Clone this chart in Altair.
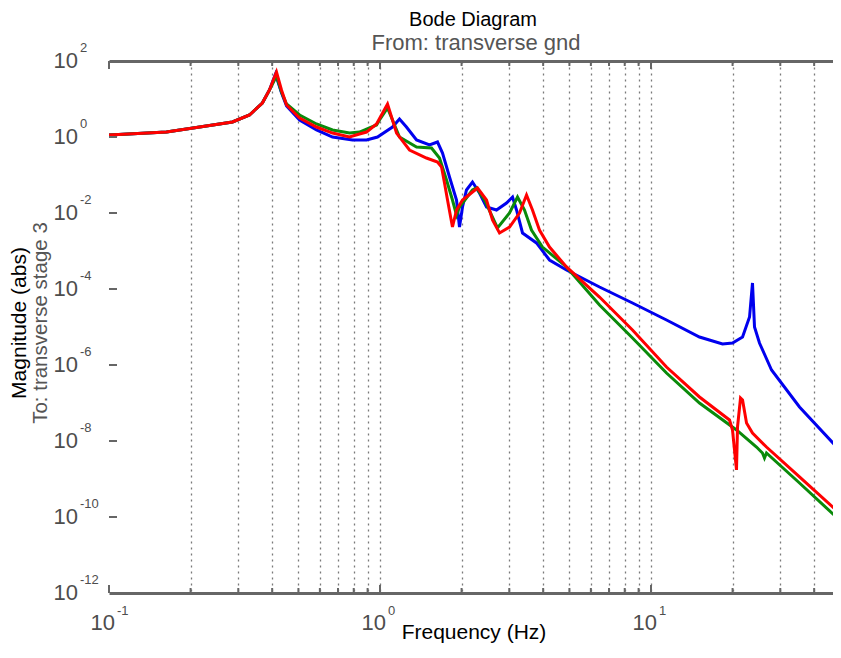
import altair as alt
import pandas as pd

# ---- data ----
freq_blue = [0.1, 0.163, 0.216, 0.2855, 0.330, 0.368, 0.391, 0.4115, 0.433, 0.452,
             0.505, 0.583, 0.668, 0.792, 0.892, 0.979, 1.112, 1.18, 1.252, 1.364,
             1.523, 1.630, 1.701, 1.805, 1.916, 1.965, 2.016, 2.085, 2.194, 2.329,
             2.472, 2.691, 2.930, 3.084, 3.19, 3.357, 3.779, 4.222, 4.877, 6.457,
             8.545, 11.41, 15.10, 18.36, 19.99, 21.77, 23.10, 23.69, 24.1, 25.14,
             27.85, 35.32, 49.6, 50]
mag_blue = [1.13, 1.35, 1.83, 2.48, 3.79, 7.85, 17.3, 45.5, 14.5, 6.54,
            2.80, 1.53, 1.0, 0.834, 0.834, 1.0, 1.83, 2.98, 1.83, 0.834,
            0.616, 0.738, 0.379, 0.0886, 0.0220, 0.00428, 0.0144, 0.0403, 0.0654, 0.0336,
            0.0144, 0.0120, 0.0183, 0.0264, 0.0120, 0.00298, 0.00163, 5.8e-4, 3.16e-4, 1.13e-4,
            4.28e-5, 1.53e-5, 5.46e-6, 3.57e-6, 3.79e-6, 5.46e-6, 1.83e-5, 1.44e-4, 1.0e-5, 3.79e-6,
            7.38e-7, 7.85e-8, 5.8e-9, 5.5e-9]

freq_green = [0.1, 0.163, 0.216, 0.2855, 0.330, 0.368, 0.391, 0.415, 0.433, 0.452,
              0.505, 0.583, 0.668, 0.772, 0.840, 0.971, 0.996, 1.066, 1.18, 1.364,
              1.549, 1.658, 1.760, 1.851, 1.916, 1.965, 2.194, 2.270, 2.430, 2.714,
              3.006, 3.217, 3.414, 3.622, 3.977, 4.877, 6.457, 8.545, 11.41, 15.10,
              20.68, 24.51, 25.78, 26.23, 26.68, 35.32, 49.6, 50]
mag_green = [1.13, 1.35, 1.83, 2.48, 3.79, 7.85, 17.3, 40.3, 15.3, 7.38,
             3.79, 2.20, 1.53, 1.27, 1.35, 2.07, 2.80, 5.80, 1.0, 0.546,
             0.514, 0.280, 0.0738, 0.0220, 0.00886, 0.0144, 0.0403, 0.0455, 0.0220, 0.00403,
             0.0100, 0.0264, 0.0120, 0.00357, 0.00127, 3.8e-4, 3.79e-5, 5.14e-6, 6.15e-7, 1.0e-7,
             1.95e-8, 6.95e-9, 4.83e-9, 3.57e-9, 4.83e-9, 7.85e-10, 8.34e-11, 8.0e-11]

freq_red = [0.1, 0.163, 0.216, 0.2855, 0.330, 0.368, 0.391, 0.415, 0.433, 0.452,
            0.505, 0.583, 0.668, 0.772, 0.840, 0.892, 0.971, 1.066, 1.151, 1.285,
            1.484, 1.630, 1.687, 1.730, 1.775, 1.851, 1.916, 2.016, 2.290, 2.472,
            2.601, 2.761, 3.006, 3.272, 3.473, 3.653, 3.877, 4.222, 4.877, 6.457,
            8.545, 11.41, 15.10, 19.49, 19.99, 20.68, 20.86, 21.40, 21.77, 22.52,
            23.69, 26.68, 35.32, 49.6, 50]
mag_red = [1.13, 1.35, 1.83, 2.48, 3.79, 7.85, 17.3, 51.4, 17.3, 6.95,
           3.16, 1.83, 1.27, 1.0, 1.20, 1.35, 2.20, 7.38, 1.27, 0.455,
           0.280, 0.220, 0.162, 0.0616, 0.0220, 0.00428, 0.0120, 0.0220, 0.0455, 0.0220,
           0.00655, 0.00298, 0.00428, 0.0100, 0.0298, 0.0120, 0.00357, 0.00127, 3.8e-4, 6.15e-5,
           8.34e-6, 8.86e-7, 1.44e-7, 3.57e-8, 1.95e-8, 1.73e-9, 2.34e-8, 1.35e-7, 1.2e-7, 2.98e-8,
           1.62e-8, 6.95e-9, 1.13e-9, 1.27e-10, 1.2e-10]

x_major = [0.1, 1, 10]
x_minor = [0.2, 0.3, 0.4, 0.5, 0.6, 0.7, 0.8, 0.9,
           2, 3, 4, 5, 6, 7, 8, 9, 20, 30, 40]
x_grid = [0.2, 0.3, 0.4, 0.5, 0.6, 0.7, 0.8, 0.9, 1,
          2, 3, 4, 5, 6, 7, 8, 9, 10, 20, 30, 40]
x_label_exp = ["-1", "0", "1"]
y_major = [1e2, 1e0, 1e-2, 1e-4, 1e-6, 1e-8, 1e-10, 1e-12]
y_label_exp = ["2", "0", "-2", "-4", "-6", "-8", "-10", "-12"]
y_grid = [1e0, 1e-2, 1e-4, 1e-6, 1e-8, 1e-10]

title_text = "Bode Diagram"
subtitle_text = "From: transverse gnd"
x_title = "Frequency  (Hz)"
y_title = "Magnitude (abs)"
y_subtitle = "To: transverse stage 3"

# ---- styling ----
W, H = 724, 532
X_MAX = 46.95  # visible right edge of the (cropped) reference plot
FONT = "Liberation Sans, Arial, Helvetica, sans-serif"
FRAME = "#666666"
GRID = "#7a7a7a"
LABEL = "#4d4d4d"

xs = alt.Scale(type="log", domain=[0.1, X_MAX], nice=False)
ys = alt.Scale(type="log", domain=[1e-12, 1e2], nice=False)

x_axis = alt.Axis(orient="bottom", values=x_grid, grid=True, gridDash=[2, 4], gridColor=GRID,
                  gridWidth=1.3, gridOpacity=1, labels=False, ticks=False, title=None,
                  domain=True, domainColor=FRAME, domainWidth=3)
x_axis_top = alt.Axis(orient="top", labels=False, ticks=False, grid=False, title=None,
                      domain=True, domainColor=FRAME, domainWidth=3)
y_axis = alt.Axis(values=y_grid, grid=True, gridDash=[2, 4], gridColor=GRID, gridWidth=1.3,
                  gridOpacity=1, labels=False, ticks=False, title=None,
                  domain=True, domainColor=FRAME, domainWidth=3)


def curve(freq, mag, color, axes):
    df = pd.DataFrame({"freq": freq, "mag": mag})
    return alt.Chart(df).mark_line(color=color, strokeWidth=3, clip=True).encode(
        x=alt.X("freq:Q", scale=xs, axis=x_axis if axes else None),
        y=alt.Y("mag:Q", scale=ys, axis=y_axis if axes else None),
    )


blue = curve(freq_blue, mag_blue, "#0000ee", True)
green = curve(freq_green, mag_green, "#0a8a0a", False)
red = curve(freq_red, mag_red, "#ff0000", False)

df_xmaj = pd.DataFrame({"freq": x_major})
df_xmin = pd.DataFrame({"freq": x_minor})
df_ygrid = pd.DataFrame({"mag": y_grid})

tick_style = dict(color=FRAME, strokeWidth=2)
xt_bot_maj = alt.Chart(df_xmaj).mark_rule(**tick_style).encode(
    x=alt.X("freq:Q", scale=xs, axis=x_axis_top), y=alt.value(H), y2=alt.value(H - 8))
xt_bot_min = alt.Chart(df_xmin).mark_rule(**tick_style).encode(
    x=alt.X("freq:Q", scale=xs, axis=None), y=alt.value(H), y2=alt.value(H - 5))
xt_top_maj = alt.Chart(df_xmaj).mark_rule(**tick_style).encode(
    x=alt.X("freq:Q", scale=xs, axis=None), y=alt.value(0), y2=alt.value(8))
xt_top_min = alt.Chart(df_xmin).mark_rule(**tick_style).encode(
    x=alt.X("freq:Q", scale=xs, axis=None), y=alt.value(0), y2=alt.value(5))
yt_left = alt.Chart(df_ygrid).mark_rule(**tick_style).encode(
    y=alt.Y("mag:Q", scale=ys, axis=None), x=alt.value(0), x2=alt.value(8))

df_xl = pd.DataFrame({"freq": x_major, "exp": x_label_exp})
df_yl = pd.DataFrame({"mag": y_major, "exp": y_label_exp})

x_base = alt.Chart(df_xl).mark_text(text="10", align="right", baseline="middle", fontSize=22,
                                    font=FONT, color=LABEL, dx=6).encode(
    x=alt.X("freq:Q", scale=xs, axis=None), y=alt.value(H + 30))
x_exp = alt.Chart(df_xl).mark_text(align="left", baseline="middle", fontSize=13,
                                   font=FONT, color=LABEL, dx=8).encode(
    x=alt.X("freq:Q", scale=xs, axis=None), y=alt.value(H + 18), text="exp:N")
y_base = alt.Chart(df_yl).mark_text(text="10", align="right", baseline="middle", fontSize=22,
                                    font=FONT, color=LABEL).encode(
    y=alt.Y("mag:Q", scale=ys, axis=None), x=alt.value(-31))
y_exp = alt.Chart(df_yl).mark_text(align="left", baseline="middle", fontSize=13,
                                   font=FONT, color=LABEL, dy=-13).encode(
    y=alt.Y("mag:Q", scale=ys, axis=None), x=alt.value(-29), text="exp:N")

df_t = pd.DataFrame({"t": [title_text], "s": [subtitle_text], "xt": [x_title],
                     "yt": [y_title], "ys": [y_subtitle]})
t_main = alt.Chart(df_t).mark_text(align="center", baseline="middle", fontSize=20, font=FONT,
                                   color="#000000").encode(
    x=alt.value(364), y=alt.value(-41), text="t:N")
t_sub = alt.Chart(df_t).mark_text(align="center", baseline="middle", fontSize=22, font=FONT,
                                  color="#555555").encode(
    x=alt.value(367), y=alt.value(-18), text="s:N")
t_x = alt.Chart(df_t).mark_text(align="center", baseline="alphabetic", fontSize=21, font=FONT,
                                color="#000000").encode(
    x=alt.value(365), y=alt.value(H + 46), text="xt:N")
t_y = alt.Chart(df_t).mark_text(align="center", baseline="middle", fontSize=21, font=FONT,
                                color="#000000", angle=270).encode(
    x=alt.value(-89), y=alt.value(262), text="yt:N")
t_y2 = alt.Chart(df_t).mark_text(align="center", baseline="middle", fontSize=20.5, font=FONT,
                                 color="#555555", angle=270).encode(
    x=alt.value(-68), y=alt.value(262), text="ys:N")

chart = alt.layer(
    blue, green, red,
    xt_bot_maj, xt_bot_min, xt_top_maj, xt_top_min, yt_left,
    x_base, x_exp, y_base, y_exp,
    t_main, t_sub, t_x, t_y, t_y2,
).resolve_axis(x="independent").properties(
    width=W, height=H,
    padding={"left": 101, "top": 53, "right": 0, "bottom": 51},
    autosize=alt.AutoSizeParams(type="none"),
    background="white",
).configure_view(stroke=None)

chart.save("out.html", embed_options={"renderer": "svg", "actions": False})
